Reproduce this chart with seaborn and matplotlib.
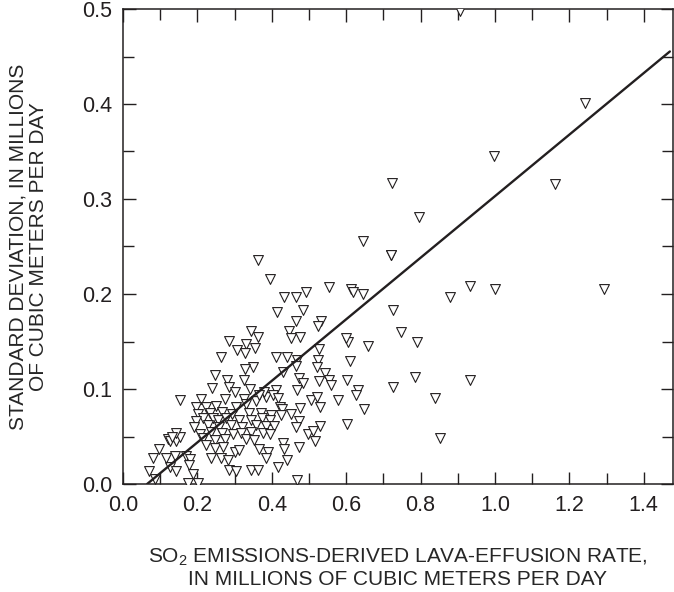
import numpy as np
import pandas as pd
import seaborn as sns
from matplotlib import pyplot as plt
from matplotlib.ticker import MultipleLocator, FormatStrFormatter

# lava-effusion rate (x) and standard deviation (y), millions of m3 per day
effusion = [
    0.362, 0.396, 0.432, 0.466, 0.492, 0.555, 0.613, 0.618, 0.645, 0.414,
    0.484, 0.464, 0.533, 0.524, 0.344, 0.362, 0.447, 0.452, 0.477, 0.604,
    0.600, 0.285, 0.331, 0.354, 0.306, 0.327, 0.528, 0.658, 0.264, 0.412,
    0.441, 0.468, 0.524, 0.609, 0.349, 0.329, 0.430, 0.464, 0.521, 0.544,
    0.246, 0.279, 0.325, 0.473, 0.485, 0.528, 0.555, 0.559, 0.602, 0.240,
    0.286, 0.302, 0.342, 0.410, 0.467, 0.631, 0.625, 0.152, 0.210, 0.273,
    0.325, 0.358, 0.385, 0.403, 0.380, 0.365, 0.416, 0.506, 0.521, 0.577,
    0.197, 0.222, 0.250, 0.304, 0.331, 0.422, 0.428, 0.476, 0.530, 0.649,
    0.201, 0.233, 0.267, 0.293, 0.340, 0.372, 0.399, 0.425, 0.452, 0.215,
    0.242, 0.255, 0.277, 0.313, 0.345, 0.374, 0.394, 0.197, 0.473, 0.192,
    0.228, 0.259, 0.291, 0.320, 0.358, 0.385, 0.405, 0.465, 0.530, 0.602,
    0.206, 0.237, 0.266, 0.295, 0.318, 0.345, 0.376, 0.396, 0.497, 0.510,
    0.515, 0.121, 0.143, 0.152, 0.143, 0.125, 0.215, 0.246, 0.273, 0.331,
    0.351, 0.430, 0.098, 0.224, 0.246, 0.268, 0.302, 0.313, 0.365, 0.389,
    0.434, 0.473, 0.080, 0.139, 0.170, 0.181, 0.237, 0.263, 0.282, 0.385,
    0.440, 0.125, 0.177, 0.416, 0.069, 0.143, 0.188, 0.286, 0.304, 0.345,
    0.362, 0.085, 0.174, 0.201, 0.467, 0.116, 0.132,
    0.644, 0.721, 0.905, 1.241, 0.997, 0.724, 1.162, 0.797, 0.721, 0.933,
    1.001, 1.292, 0.878, 0.727, 0.748, 0.791, 0.785, 0.727, 0.933, 0.840,
    0.851,
]
std_dev = [
    0.236, 0.216, 0.197, 0.197, 0.202, 0.207, 0.205, 0.202, 0.200, 0.181,
    0.183, 0.172, 0.172, 0.166, 0.161, 0.155, 0.161, 0.154, 0.155, 0.150,
    0.154, 0.151, 0.147, 0.143, 0.141, 0.138, 0.142, 0.145, 0.134, 0.134,
    0.134, 0.131, 0.131, 0.129, 0.123, 0.121, 0.118, 0.124, 0.123, 0.117,
    0.115, 0.109, 0.109, 0.112, 0.106, 0.108, 0.109, 0.104, 0.110, 0.101,
    0.102, 0.097, 0.100, 0.099, 0.099, 0.099, 0.094, 0.088, 0.090, 0.090,
    0.089, 0.087, 0.092, 0.094, 0.097, 0.094, 0.091, 0.088, 0.092, 0.088,
    0.081, 0.081, 0.082, 0.081, 0.084, 0.081, 0.079, 0.080, 0.081, 0.079,
    0.074, 0.075, 0.076, 0.074, 0.075, 0.075, 0.073, 0.073, 0.074, 0.069,
    0.069, 0.067, 0.069, 0.067, 0.067, 0.069, 0.067, 0.066, 0.066, 0.060,
    0.062, 0.060, 0.062, 0.060, 0.062, 0.061, 0.061, 0.060, 0.061, 0.063,
    0.053, 0.055, 0.054, 0.053, 0.054, 0.055, 0.054, 0.053, 0.053, 0.056,
    0.045, 0.047, 0.045, 0.050, 0.054, 0.045, 0.048, 0.046, 0.047, 0.047,
    0.046, 0.043, 0.037, 0.041, 0.038, 0.039, 0.034, 0.036, 0.037, 0.034,
    0.037, 0.039, 0.027, 0.029, 0.029, 0.026, 0.027, 0.027, 0.025, 0.027,
    0.025, 0.018, 0.020, 0.018, 0.014, 0.014, 0.011, 0.015, 0.014, 0.015,
    0.015, 0.005, 0.001, 0.001, 0.004, 0.027, 0.050,
    0.256, 0.241, 0.498, 0.401, 0.345, 0.317, 0.316, 0.281, 0.241, 0.208,
    0.205, 0.205, 0.197, 0.183, 0.160, 0.149, 0.113, 0.102, 0.110, 0.091,
    0.048,
]

# fitted line
fit_slope = 0.324
fit_intercept = -0.021
fit_x = [0.065, 1.47]

x_label = ("SO$_\\mathrm{2}$ EMISSIONS-DERIVED LAVA-EFFUSION RATE,\n"
           "IN MILLIONS OF CUBIC METERS PER DAY")
y_label = "STANDARD DEVIATION, IN MILLIONS\nOF CUBIC METERS PER DAY"

ink = "#231f20"


def main():
    sns.set_style("ticks")
    plt.rcParams['font.family'] = ['Liberation Sans', 'DejaVu Sans']
    plt.rcParams['mathtext.fontset'] = 'custom'
    plt.rcParams['mathtext.rm'] = 'Liberation Sans'
    plt.rcParams['text.color'] = ink
    plt.rcParams['axes.edgecolor'] = ink
    plt.rcParams['xtick.color'] = ink
    plt.rcParams['ytick.color'] = ink

    df = pd.DataFrame({"rate": effusion, "sd": std_dev})

    fig = plt.figure(figsize=(6.74, 5.92), dpi=100)
    ax = fig.add_axes([123 / 674, 108 / 592, 550 / 674, 475 / 592])

    sns.scatterplot(data=df, x="rate", y="sd", marker="v", s=50,
                    facecolor="white", edgecolor=ink, linewidth=0.8, ax=ax,
                    zorder=3)
    lx = np.array(fit_x)
    ax.plot(lx, fit_slope * lx + fit_intercept, color=ink, lw=1.7, zorder=4)

    ax.set_xlim(0, 550 / 372)
    ax.set_ylim(0, 0.5)
    ax.xaxis.set_major_locator(MultipleLocator(0.2))
    ax.xaxis.set_minor_locator(MultipleLocator(0.1))
    ax.yaxis.set_major_locator(MultipleLocator(0.1))
    ax.yaxis.set_minor_locator(MultipleLocator(0.05))
    ax.xaxis.set_major_formatter(FormatStrFormatter("%.1f"))
    ax.yaxis.set_major_formatter(FormatStrFormatter("%.1f"))
    ax.tick_params(which="both", direction="in", top=True, right=True,
                   width=1.0, labelsize=15.5)
    ax.tick_params(which="major", length=9, pad=8)
    ax.tick_params(which="minor", length=8)
    for sp in ax.spines.values():
        sp.set_linewidth(1.1)

    ax.set_xlabel(x_label, fontsize=15, linespacing=1.1)
    ax.set_ylabel(y_label, fontsize=15, linespacing=1.1)
    ax.xaxis.set_label_coords(0.5, -0.132)
    ax.yaxis.set_label_coords(-0.137, 0.5)

    plt.savefig("out.png", dpi=100)


if __name__ == '__main__':
    main()
